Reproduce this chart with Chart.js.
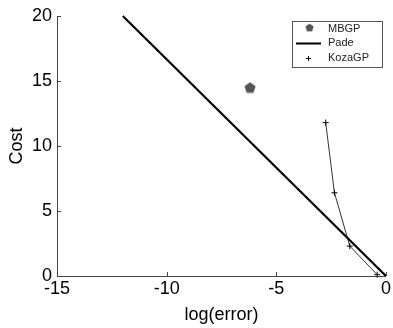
<!DOCTYPE html>
<html>
<head>
<meta charset="utf-8">
<script src="https://cdn.jsdelivr.net/npm/chart.js@4/dist/chart.umd.min.js"></script>
<style>
  html, body { margin: 0; padding: 0; background: #fff; }
  #wrap { width: 393px; height: 328px; }
</style>
</head>
<body>
<div id="wrap"><canvas id="c" width="393" height="328"></canvas></div>
<script>
// data
var mbgpX = [-6.2];
var mbgpY = [14.5];
var padeX = [-12, 0];
var padeY = [20, 0];
var kozaX = [-2.75, -2.35, -1.65, -0.4];
var kozaY = [11.8, 6.4, 2.3, 0.1];
var xTicks = [-15, -10, -5, 0];
var yTicks = [0, 5, 10, 15, 20];
var seriesNames = ['MBGP', 'Pade', 'KozaGP'];

function pts(xs, ys) {
  var out = [];
  for (var i = 0; i < xs.length; i++) out.push({x: xs[i], y: ys[i]});
  return out;
}

// pentagon marker
var pent = document.createElement('canvas');
pent.width = 12; pent.height = 12;
(function () {
  var g = pent.getContext('2d');
  g.fillStyle = '#555';
  g.beginPath();
  for (var i = 0; i < 5; i++) {
    var a = -Math.PI / 2 + i * 2 * Math.PI / 5;
    var px = 6 + 5.8 * Math.cos(a), py = 6.5 + 5.8 * Math.sin(a);
    if (i == 0) g.moveTo(px, py); else g.lineTo(px, py);
  }
  g.closePath();
  g.fill();
})();

var FONT = 'Liberation Sans, Arial, sans-serif';

// inward ticks like matlab
var innerTicks = {
  id: 'innerTicks',
  afterDatasetsDraw: function (chart) {
    var ctx = chart.ctx, a = chart.chartArea;
    var xs = chart.scales.x, ys = chart.scales.y;
    ctx.save();
    ctx.strokeStyle = '#444';
    ctx.lineWidth = 1;
    ctx.beginPath();
    xTicks.forEach(function (v) {
      var px = Math.round(xs.getPixelForValue(v)) + 0.5;
      ctx.moveTo(px, a.bottom); ctx.lineTo(px, a.bottom - 4);
    });
    yTicks.forEach(function (v) {
      var py = Math.round(ys.getPixelForValue(v)) + 0.5;
      ctx.moveTo(a.left, py); ctx.lineTo(a.left + 4, py);
    });
    ctx.stroke();
    ctx.restore();
  }
};

// legend box top right
var boxLegend = {
  id: 'boxLegend',
  afterDraw: function (chart) {
    var ctx = chart.ctx;
    var x0 = 292.5, y0 = 21.5, w = 90, h = 46;
    ctx.save();
    ctx.fillStyle = '#fff';
    ctx.fillRect(x0, y0, w, h);
    ctx.strokeStyle = '#555';
    ctx.lineWidth = 1;
    ctx.strokeRect(x0, y0, w, h);
    ctx.font = '11px ' + FONT;
    ctx.fillStyle = '#222';
    ctx.textBaseline = 'middle';
    var rows = [29, 43, 58];
    for (var i = 0; i < 3; i++) ctx.fillText(seriesNames[i], 328, rows[i]);
    ctx.drawImage(pent, 305, 23, 9, 9);
    ctx.strokeStyle = '#000';
    ctx.lineWidth = 2;
    ctx.beginPath(); ctx.moveTo(296, 43.5); ctx.lineTo(321, 43.5); ctx.stroke();
    ctx.lineWidth = 1;
    ctx.beginPath();
    ctx.moveTo(308.5, 56); ctx.lineTo(308.5, 61);
    ctx.moveTo(306, 58.5); ctx.lineTo(311, 58.5);
    ctx.stroke();
    ctx.restore();
  }
};

new Chart(document.getElementById('c'), {
  type: 'scatter',
  data: {
    datasets: [
      {
        label: seriesNames[0],
        data: pts(mbgpX, mbgpY),
        pointStyle: pent,
        showLine: false
      },
      {
        label: seriesNames[1],
        data: pts(padeX, padeY),
        showLine: true,
        borderColor: '#000',
        borderWidth: 2.2,
        pointRadius: 0
      },
      {
        label: seriesNames[2],
        data: pts(kozaX, kozaY),
        showLine: true,
        borderColor: '#333',
        borderWidth: 1,
        pointStyle: 'cross',
        pointRadius: 3,
        pointBorderColor: '#000',
        pointBorderWidth: 1
      }
    ]
  },
  options: {
    responsive: false,
    animation: false,
    clip: false,
    layout: { padding: { top: 16, right: 3, left: 0, bottom: 0 } },
    plugins: { legend: { display: false }, tooltip: { enabled: false } },
    scales: {
      x: {
        type: 'linear',
        min: -15, max: 0,
        afterBuildTicks: function (s) { s.ticks = xTicks.map(function (v) { return {value: v}; }); },
        afterFit: function (s) { s.height = 52; },
        grid: { display: false, drawTicks: false },
        border: { color: '#444', width: 1 },
        ticks: { color: '#000', padding: 2, font: { family: FONT, size: 18 }, maxRotation: 0 },
        title: { display: true, text: 'log(error)', color: '#000', padding: { top: 0, bottom: 2 }, font: { family: FONT, size: 18 } }
      },
      y: {
        type: 'linear',
        min: 0, max: 20,
        afterBuildTicks: function (s) { s.ticks = yTicks.map(function (v) { return {value: v}; }); },
        afterFit: function (s) { s.width = 57; },
        grid: { display: false, drawTicks: false },
        border: { color: '#444', width: 1 },
        ticks: { color: '#000', padding: 5, font: { family: FONT, size: 18 } },
        title: { display: true, text: 'Cost', color: '#000', padding: { top: 6, bottom: 0 }, font: { family: FONT, size: 18 } }
      }
    }
  },
  plugins: [innerTicks, boxLegend]
});
</script>
</body>
</html>
